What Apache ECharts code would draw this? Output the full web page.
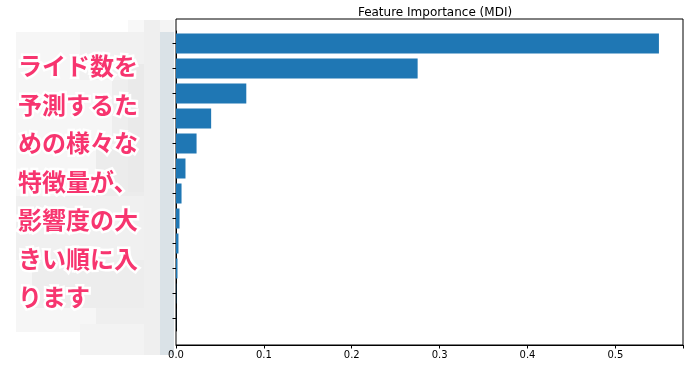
<!DOCTYPE html>
<html><head><meta charset="utf-8">
<script src="https://cdn.jsdelivr.net/npm/echarts@6/dist/echarts.min.js"></script>
<style>html,body{margin:0;padding:0;background:#fff}#c{width:691px;height:369px}</style>
</head><body><div id="c"></div>
<script>
// Feature names are mosaicked in the source image (unreadable); kept as generic ids, labels hidden
const features = ['f1','f2','f3','f4','f5','f6','f7','f8','f9','f10','f11','f12'];
const importance = [0.5496, 0.275, 0.080, 0.040, 0.0234, 0.0108, 0.0063, 0.0040, 0.0028, 0.0017, 0.0003, 0.0001];
const xTicks = [0, 0.1, 0.2, 0.3, 0.4, 0.5];
const title = 'Feature Importance (MDI)';
const overlayLines = ['ライド数を','予測するた','めの様々な','特徴量が、','影響度の大','きい順に入','ります'];

const chart = echarts.init(document.getElementById('c'), null, {renderer:'canvas'});
const font = 'DejaVu Sans';

// decorative mosaic blocks (pixelated label area)
const mosaic = [
  [128,20,32,12,'#f8f8f8'],
  [16,32,144,300,'#f6f6f6'],
  [80,32,64,48,'#f1f1f1'],
  [112,80,32,64,'#eeeeee'],
  [96,148,48,48,'#ececec'],
  [16,196,128,64,'#f0f0f0'],
  [32,260,112,48,'#ededed'],
  [96,308,64,16,'#efefef'],
  [80,324,80,31,'#f3f3f3'],
  [128,64,16,128,'#eaeaea'],
  [144,20,16,335,'#efefef'],
  [160,20,14,12,'#f4f4f4'],
  [160,32,14,323,'#dae2e7']
];
const graphics = mosaic.map(m => ({type:'rect', z:-10, shape:{x:m[0],y:m[1],width:m[2],height:m[3]}, style:{fill:m[4]}, silent:true}));
overlayLines.forEach((t,i)=>{
  graphics.push({type:'text', z:100, x:18, y:66 + i*38.5, style:{
    text:t, font:'bold 24px "Noto Sans CJK JP"', fill:'#f7356f', stroke:'#ffffff', lineWidth:5,
    verticalAlign:'middle', align:'left',
    shadowColor:'rgba(0,0,0,0.3)', shadowBlur:3, shadowOffsetX:1, shadowOffsetY:2
  }});
});

chart.setOption({
  animation:false,
  backgroundColor:'#fff',
  title:{text:title, left:430, top:2, textAlign:'center',
    textStyle:{fontFamily:font, fontSize:12, fontWeight:'normal', color:'#000'}},
  grid:[
    {left:176, right:8, top:19, height:326, show:true, borderColor:'#000', borderWidth:1, backgroundColor:'transparent'},
    {left:176, right:8, top:31, height:300}
  ],
  xAxis:[
    {gridIndex:0, type:'value', min:0, max:0.577, interval:0.1,
      axisLine:{show:true, lineStyle:{color:'#000'}},
      axisTick:{show:true, length:3.5, lineStyle:{color:'#000'}},
      axisLabel:{fontFamily:font, fontSize:10, color:'#000', margin:5,
        formatter:v => xTicks.some(t=>Math.abs(t-v)<1e-9) ? v.toFixed(1) : ''},
      splitLine:{show:false}},
    {gridIndex:1, type:'value', min:0, max:0.577, show:false, splitLine:{show:false}}
  ],
  yAxis:[
    {gridIndex:0, type:'value', show:false, splitLine:{show:false}},
    {gridIndex:1, type:'category', data:features, inverse:true,
      axisLine:{show:true, lineStyle:{color:'#000'}},
      axisTick:{show:true, alignWithLabel:true, length:3.5, lineStyle:{color:'#000'}},
      axisLabel:{show:false}}
  ],
  series:[{type:'bar', xAxisIndex:1, yAxisIndex:1, data:importance, barWidth:20,
    itemStyle:{color:'#1f77b4'}}],
  graphic:graphics
});
</script></body></html>
